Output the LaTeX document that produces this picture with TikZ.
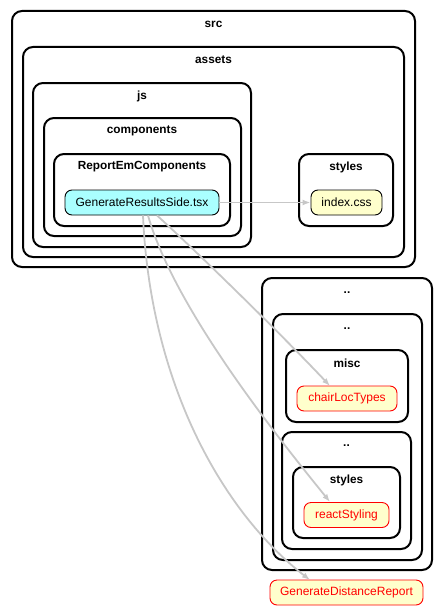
\documentclass[tikz,border=0pt]{standalone}
\usepackage{fontspec}
\setmainfont{Liberation Sans}
\usetikzlibrary{arrows.meta,positioning}
\definecolor{tsfill}{HTML}{AAFFFF}
\definecolor{cssfill}{HTML}{FFFFCC}

\begin{document}
\begin{tikzpicture}[x=1pt, y=-1pt,
    >={Latex[length=8pt,width=6pt]},
    every node/.append style={align=center, font=\fontsize{12}{14}\selectfont},
    cluster/.style={draw, line width=2pt, rounded corners=10pt},
    clabel/.style={font=\fontsize{11.8}{14}\selectfont\bfseries, inner sep=0},
    file/.style={draw, rounded corners=7pt, minimum height=25pt, inner sep=0, line width=0.9pt}]
    \tikzstyle{extfile}=[file, draw=red, fill=cssfill, text=red]
    \tikzstyle{dep}=[draw=black!22, line width=1.8pt, ->]

  \useasboundingbox (0,0) rectangle (442,610);

  % folders
  \draw[cluster] (12,11) rectangle (415,267);
  \draw[cluster] (23,47) rectangle (404,257);
  \draw[cluster] (33,83) rectangle (251,247);
  \draw[cluster] (44,118) rectangle (241,236);
  \draw[cluster] (54,154) rectangle (230,226);
  \draw[cluster] (299,154) rectangle (393,226);
  \draw[cluster] (262,278) rectangle (432,570);
  \draw[cluster] (273,314) rectangle (422,560);
  \draw[cluster] (286,350) rectangle (408,422);
  \draw[cluster] (282,432) rectangle (411,549);
  \draw[cluster] (293,467) rectangle (400,538);

  \node[clabel] (srcl) at (213.5,24) {src};
  \node[clabel] (assetsl) at (213.5,60) {assets};
  \node[clabel] (jsl) at (142,96) {js};
  \node[clabel] (compl) at (142,131) {components};
  \node[clabel] (reportl) at (142,167) {ReportEmComponents};
  \node[clabel] (stylesl) at (346,167) {styles};
  \node[clabel] (upl) at (347,293) {..};
  \node[clabel] (upupl) at (347,329) {..};
  \node[clabel] (miscl) at (347,363) {misc};
  \node[clabel] (up3l) at (346.5,446) {..};
  \node[clabel] (styles2l) at (346.5,480) {styles};

  % files
  \node[file, fill=tsfill, minimum width=154pt] (GRS) at (142,202.5) {GenerateResultsSide.tsx};
  \node[file, fill=cssfill, minimum width=71pt] (IDX) at (346.5,202.5) {index.css};
  \node[extfile, minimum width=100pt] (CLT) at (347,398.5) {chairLocTypes};
  \node[extfile, minimum width=85pt] (RS) at (346.5,515) {reactStyling};
  \node[extfile, minimum width=153pt] (GDR) at (346.5,592.5) {GenerateDistanceReport};

  \path[dep] (GRS) edge (IDX);
  \draw[dep] (GRS.south) ++(15,0) .. controls (195,250) and (285,338) .. (330,386);
  \draw[dep] (GRS.south) ++(6,0) .. controls (175,310) and (280,440) .. (330,502);
  \draw[dep] (GRS.south) ++(1,0) .. controls (150,380) and (220,510) .. (310,580);
\end{tikzpicture}
\end{document}
